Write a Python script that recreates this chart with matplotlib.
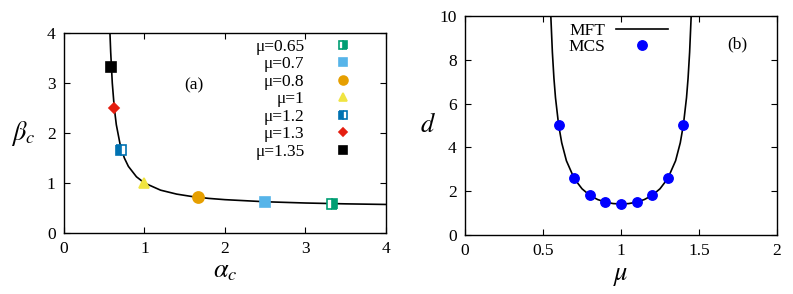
import matplotlib
matplotlib.use("Agg")
import matplotlib.pyplot as plt

plt.rcParams['font.family'] = ['Liberation Serif', 'DejaVu Serif']
plt.rcParams['mathtext.fontset'] = 'stix'

# panel (a): MFT curve beta_c vs alpha_c
curve_alpha = [0.571, 0.58, 0.6, 0.625, 0.65, 0.7, 0.75, 0.8, 0.9, 1.0,
               1.2, 1.4, 1.6, 1.8, 2.0, 2.5, 3.0, 3.5, 4.0]
curve_beta = [4.0, 3.625, 3.0, 2.5, 2.167, 1.75, 1.5, 1.333, 1.125, 1.0,
              0.857, 0.778, 0.727, 0.692, 0.667, 0.625, 0.6, 0.583, 0.571]

# panel (a): simulation points, one per mu
mu_labels = ['μ=0.65', 'μ=0.7', 'μ=0.8', 'μ=1', 'μ=1.2', 'μ=1.3', 'μ=1.35']
pt_alpha = [3.33, 2.5, 1.667, 1.0, 0.714, 0.625, 0.588]
pt_beta = [0.588, 0.625, 0.714, 1.0, 1.667, 2.5, 3.33]

# panel (b): d vs mu
mft_mu = [0.55, 0.56, 0.57, 0.58, 0.6, 0.62, 0.65, 0.7, 0.75, 0.8, 0.85, 0.9, 0.95, 1.0,
          1.05, 1.1, 1.15, 1.2, 1.25, 1.3, 1.35, 1.38, 1.4, 1.42, 1.43, 1.44, 1.45]
mft_d = [10.01, 8.35, 7.16, 6.27, 5.03, 4.21, 3.39, 2.58, 2.11, 1.81, 1.62, 1.50, 1.435, 1.414,
         1.435, 1.50, 1.62, 1.81, 2.11, 2.58, 3.39, 4.21, 5.03, 6.27, 7.16, 8.35, 10.01]
mcs_mu = [0.6, 0.7, 0.8, 0.9, 1.0, 1.1, 1.2, 1.3, 1.4]
mcs_d = [5.03, 2.58, 1.81, 1.50, 1.414, 1.50, 1.81, 2.58, 5.03]

styles = [
    dict(marker='s', color='#009E73', fillstyle='right', markerfacecoloralt='white', ms=7.8),
    dict(marker='s', color='#56B4E9', ms=7.8),
    dict(marker='o', color='#E69F00', ms=8),
    dict(marker='^', color='#F0E442', ms=7.5),
    dict(marker='s', color='#0072B2', fillstyle='left', markerfacecoloralt='white', ms=7.8),
    dict(marker='D', color='#E51E10', ms=5.5),
    dict(marker='s', color='black', ms=7.8),
]

fs = 12.5
fig = plt.figure(figsize=(7.93, 2.94), dpi=100)
ax1 = fig.add_axes([0.0807, 0.2075, 0.406, 0.680])
ax2 = fig.add_axes([0.5864, 0.2007, 0.3934, 0.7449])

ax1.plot(curve_alpha, curve_beta, color='black', lw=1.2, zorder=2)
for lab, a, b, st in zip(mu_labels, pt_alpha, pt_beta, styles):
    ax1.plot([a], [b], linestyle='none', label=lab, markeredgewidth=1.2, zorder=3, **st)
ax1.set_xlim(0, 4)
ax1.set_ylim(0, 4)
ax1.set_xticks([0, 1, 2, 3, 4])
ax1.set_yticks([0, 1, 2, 3, 4])
ax1.set_xlabel(r'$\alpha_c$', fontsize=19, labelpad=3)
ax1.set_ylabel(r'$\beta_c$', fontsize=19, rotation=0, labelpad=17, va='center')
ax1.text(0.375, 0.72, '(a)', transform=ax1.transAxes, fontsize=fs)
leg = ax1.legend(loc='upper right', frameon=False, markerfirst=False, fontsize=fs,
                 markerscale=0.8, handlelength=1.2, handletextpad=1.6,
                 labelspacing=0.08, borderaxespad=0.2, bbox_to_anchor=(0.93, 1.025))

ax2.plot(mft_mu, mft_d, color='black', lw=1.2, label='MFT')
ax2.plot(mcs_mu, mcs_d, 'o', color='#0000FF', ms=6.8, label='MCS')
ax2.set_xlim(0, 2)
ax2.set_ylim(0, 10)
ax2.set_xticks([0, 0.5, 1, 1.5, 2])
ax2.set_xticklabels(['0', '0.5', '1', '1.5', '2'])
ax2.set_yticks([0, 2, 4, 6, 8, 10])
ax2.set_xlabel(r'$\mu$', fontsize=19, labelpad=5)
ax2.set_ylabel(r'$d$', fontsize=19, rotation=0, labelpad=8, va='center')
ax2.text(0.84, 0.85, '(b)', transform=ax2.transAxes, fontsize=fs)
ax2.legend(loc='upper left', frameon=False, markerfirst=False, fontsize=fs,
           handlelength=3.0, handletextpad=0.6, labelspacing=0.0,
           borderaxespad=0.0, bbox_to_anchor=(0.31, 1.0))

for ax in (ax1, ax2):
    ax.tick_params(direction='in', top=True, right=True, labelsize=fs, length=4, width=0.8, pad=6)
    for s in ax.spines.values():
        s.set_linewidth(1.0)

fig.savefig('out.png', dpi=100)
